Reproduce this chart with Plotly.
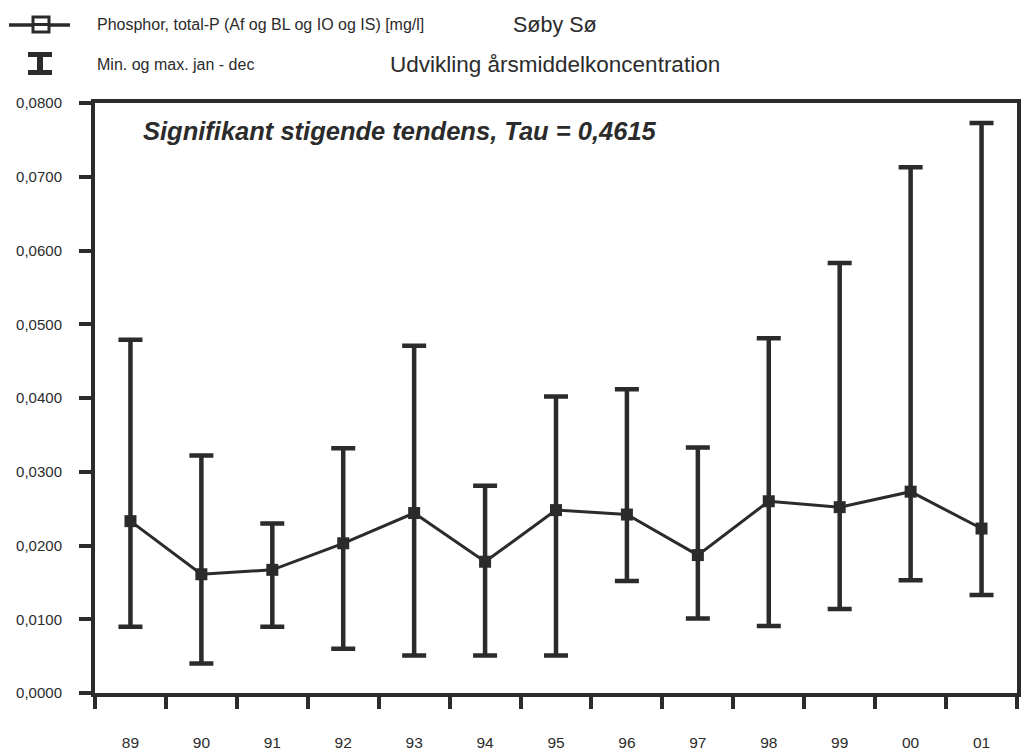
import plotly.graph_objects as go

# Annual phosphorus concentration, Søby Sø (mg/l)
years = ["89", "90", "91", "92", "93", "94", "95", "96", "97", "98", "99", "00", "01"]
mean_p = [0.0233, 0.0161, 0.0167, 0.0203, 0.0244, 0.0178, 0.0248, 0.0242, 0.0187, 0.0260, 0.0252, 0.0273, 0.0223]
max_p = [0.0479, 0.0322, 0.0230, 0.0332, 0.0471, 0.0281, 0.0402, 0.0412, 0.0333, 0.0481, 0.0583, 0.0713, 0.0773]
min_p = [0.0090, 0.0040, 0.0090, 0.0060, 0.0051, 0.0051, 0.0051, 0.0152, 0.0101, 0.0091, 0.0114, 0.0153, 0.0133]

INK = "#2b2b2b"
FONT = "Liberation Sans, Arial, sans-serif"

W, H = 1025, 754
L, R, T, B = 95, 8, 103, 61
PW, PH = W - L - R, H - T - B


def px(x):
    return (x - L) / PW


def py(y):
    return (H - B - y) / PH


err_up = [hi - m for hi, m in zip(max_p, mean_p)]
err_down = [m - lo for lo, m in zip(min_p, mean_p)]

fig = go.Figure()
fig.add_trace(go.Scatter(
    x=years, y=mean_p,
    mode="lines+markers",
    line=dict(color=INK, width=3),
    marker=dict(symbol="square", size=12, color=INK),
    error_y=dict(type="data", symmetric=False, array=err_up, arrayminus=err_down,
                 color=INK, thickness=4.5, width=12),
    showlegend=False,
))

# legend keys drawn by hand
def seg(x0, y0, x1, y1, w):
    return dict(type="line", x0=px(x0), x1=px(x1), y0=py(y0), y1=py(y1),
                xref="paper", yref="paper", line=dict(color=INK, width=w))


shapes = [
    seg(9, 25, 70, 25, 3.5),
    dict(type="rect", x0=px(33), x1=px(49), y0=py(17), y1=py(32), xref="paper", yref="paper",
         line=dict(color=INK, width=3), fillcolor="white"),
    seg(33, 24.5, 49, 24.5, 3),
    seg(28, 54.5, 52, 54.5, 5),
    seg(28, 72.5, 52, 72.5, 5),
    seg(40, 54, 40, 73, 6),
]

annotations = [
    dict(text="Phosphor, total-P (Af og BL og IO og IS) [mg/l]", x=px(95), y=py(24),
         xanchor="left", yanchor="middle", font=dict(size=16, color=INK, family=FONT)),
    dict(text="Min. og max. jan - dec", x=px(95), y=py(65),
         xanchor="left", yanchor="middle", font=dict(size=16, color=INK, family=FONT)),
    dict(text="Søby Sø", x=px(555), y=py(25),
         xanchor="center", yanchor="middle", font=dict(size=21.5, color=INK, family=FONT)),
    dict(text="Udvikling årsmiddelkoncentration", x=px(555), y=py(65),
         xanchor="center", yanchor="middle", font=dict(size=22.5, color=INK, family=FONT)),
    dict(text="<b><i>Signifikant stigende tendens, Tau = 0,4615</i></b>", x=px(141), y=py(131),
         xanchor="left", yanchor="middle", font=dict(size=25.5, color=INK, family=FONT)),
]
for a in annotations:
    a.update(xref="paper", yref="paper", showarrow=False)

fig.update_layout(
    width=W, height=H,
    margin=dict(l=L, r=R, t=T, b=B, pad=0),
    paper_bgcolor="white", plot_bgcolor="white",
    separators=", ",
    font=dict(family=FONT, color=INK),
    shapes=shapes,
    annotations=annotations,
)
fig.update_xaxes(
    type="category", tickson="boundaries", range=[-0.5, len(years) - 0.5],
    showline=True, linecolor=INK, linewidth=4, mirror=True,
    ticks="outside", ticklen=12, tickwidth=4, tickcolor=INK,
    showgrid=False, zeroline=False, automargin=False,
    tickfont=dict(size=15.5, color=INK, family=FONT),
    ticklabelstandoff=32,
)
fig.update_yaxes(
    range=[0, 0.08], dtick=0.01, tickformat=".4f",
    showline=True, linecolor=INK, linewidth=4, mirror=True,
    ticks="outside", ticklen=12, tickwidth=4, tickcolor=INK,
    showgrid=False, zeroline=False, automargin=False,
    tickfont=dict(size=15, color=INK, family=FONT),
    ticklabelstandoff=14,
)

fig.write_html("out.html")
